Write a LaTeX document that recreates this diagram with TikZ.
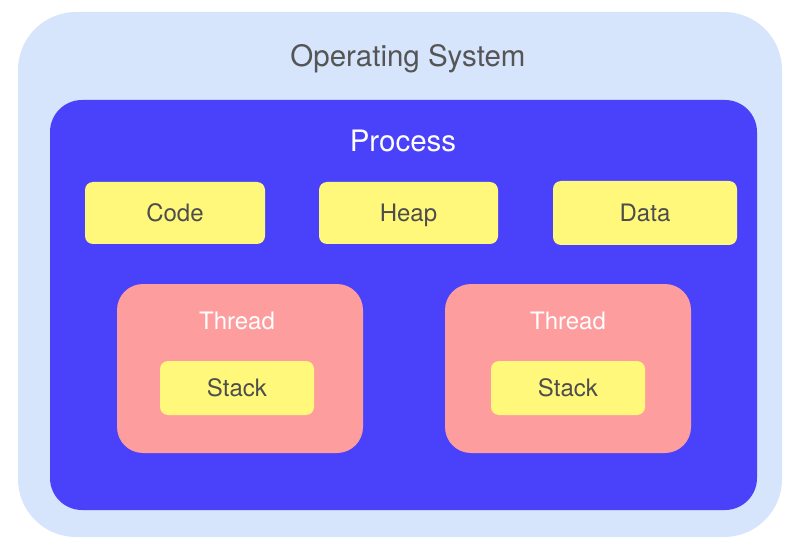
\documentclass[tikz,border=0pt]{standalone}
\usepackage{fontspec}
\setmainfont{TeX Gyre Heros}
\begin{document}
\begin{tikzpicture}
    [x=1pt,y=-1pt,
    % Styles
    region/.style={rounded corners=#1,inner sep=0pt,outer sep=0pt},
    title text/.style={anchor=base,font=\fontsize{29.5}{34}\selectfont},
    label text/.style={font=\fontsize{24}{28}\selectfont},
    memory box/.style={region=8pt,fill=memcolor,text=textcolor,label text,
      text depth=0pt,minimum height=62pt},
    thread box/.style={region=26pt,fill=threadcolor,minimum width=246pt,minimum height=169pt}]
    % Colors
    \definecolor{oscolor}{HTML}{D6E4FC}
    \definecolor{proccolor}{HTML}{4A42FA}
    \definecolor{memcolor}{HTML}{FFF87A}
    \definecolor{threadcolor}{HTML}{FE9D9D}
    \definecolor{textcolor}{HTML}{4D4D4D}
    \definecolor{ostextcolor}{HTML}{555555}
    % The graphic
    \useasboundingbox (0,0) rectangle (798,548);
    \node[region=58pt,fill=oscolor,minimum width=764pt,minimum height=525pt] (os) at (400,274.5) {};
    \node[title text,text=ostextcolor] (os label) at (408,67) {Operating System};
    \node[region=32pt,fill=proccolor,minimum width=707pt,minimum height=410pt] (process) at (403.5,305) {};
    \node[title text,text=white] (process label) at (403,152) {Process};
    % Shared memory
    \node[memory box,minimum width=180pt] (code) at (175,213) {Code};
    \node[memory box,minimum width=179pt] (heap) at (408.5,213) {Heap};
    \node[memory box,minimum width=184pt,minimum height=64pt] (data) at (645,213) {Data};
    % Threads
    \foreach \name/\x/\xin in {left/240/237, right/568/568}
    {
      \node[thread box] (thread \name) at (\x,368.5) {};
      \node[label text,anchor=base,text=white] (thread \name\space label) at (\xin,329) {Thread};
      \node[memory box,minimum width=154pt,minimum height=54pt] (stack \name) at (\xin,388) {Stack};
    }
  \end{tikzpicture}
\end{document}
